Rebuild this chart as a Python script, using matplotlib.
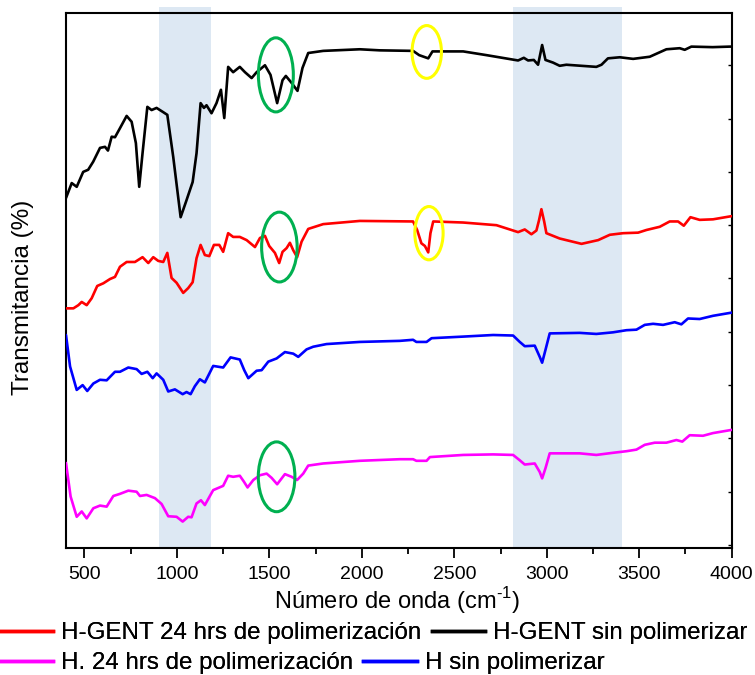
import matplotlib.pyplot as plt
from matplotlib.patches import Ellipse
from matplotlib.lines import Line2D
from matplotlib.ticker import MultipleLocator

plt.rcParams['font.family'] = ['Liberation Sans', 'DejaVu Sans']
plt.rcParams['mathtext.fontset'] = 'custom'
plt.rcParams['mathtext.rm'] = 'Liberation Sans'

# FTIR spectra (wavenumber in cm-1, transmittance offset per sample)
wn_black = [400, 431, 458, 493, 520, 547, 584, 611, 627, 647, 665, 692, 728, 755, 778,
            796, 814, 840, 863, 890, 926, 948, 980, 1020, 1049, 1085, 1106, 1128, 1146, 1160,
            1187, 1214, 1238, 1256, 1277, 1304, 1340, 1368, 1404, 1431, 1476, 1506, 1542, 1571,
            1589, 1620, 1652, 1679, 1710, 1791, 1989, 2097, 2277, 2310, 2359, 2382, 2548, 2674,
            2845, 2876, 2899, 2930, 2953, 2975, 2993, 3034, 3070, 3106, 3268, 3296, 3331, 3395,
            3467, 3557, 3647, 3719, 3746, 3782, 3897, 3989, 4000]
t_black = [65.1, 67.9, 67.2, 70.0, 70.4, 71.9, 74.5, 74.7, 74.0, 76.6, 76.5, 78.2, 80.5, 79.4, 75.4,
           67.2, 73.5, 82.2, 81.6, 82.0, 81.2, 80.7, 72.8, 61.5, 64.4, 68.1, 73.5, 82.9, 82.0, 82.5,
           81.0, 82.9, 85.4, 80.1, 89.7, 88.7, 89.7, 88.7, 87.6, 88.7, 90.0, 88.2, 82.9, 87.2,
           88.0, 86.7, 85.2, 89.5, 92.3, 92.7, 93.0, 92.8, 92.7, 91.9, 91.3, 92.6, 92.6, 91.9,
           90.9, 91.4, 90.9, 91.0, 90.1, 93.8, 91.0, 90.5, 89.9, 90.1, 89.7, 90.1, 91.3, 91.5,
           91.2, 91.6, 93.0, 93.2, 92.9, 93.5, 93.4, 93.5, 93.5]

wn_red = [400, 440, 467, 485, 512, 539, 569, 602, 638, 665, 692, 728, 773, 814, 845,
          872, 899, 926, 948, 971, 998, 1034, 1061, 1085, 1106, 1128, 1151, 1175, 1200, 1229,
          1250, 1277, 1304, 1340, 1377, 1422, 1449, 1476, 1499, 1530, 1553, 1571, 1593, 1611,
          1629, 1650, 1674, 1710, 1746, 1791, 1989, 2277, 2299, 2322, 2341, 2359, 2371, 2386,
          2548, 2728, 2845, 2881, 2917, 2944, 2958, 2971, 2986, 2998, 3070, 3188, 3278, 3341,
          3413, 3494, 3539, 3611, 3665, 3710, 3741, 3777, 3827, 3899, 4000]
t_red = [44.4, 44.4, 45.0, 45.6, 45.0, 46.3, 48.6, 49.1, 49.9, 50.3, 52.2, 53.1, 53.1, 54.0, 52.9,
         54.0, 53.3, 53.1, 54.8, 50.1, 49.2, 47.3, 48.2, 49.3, 53.8, 56.3, 54.4, 54.2, 56.3, 56.3,
         55.0, 58.5, 57.8, 57.8, 57.2, 55.9, 57.6, 58.0, 56.1, 54.8, 52.9, 55.0, 55.7, 56.7,
         55.3, 54.0, 56.9, 59.3, 59.7, 60.2, 60.8, 60.7, 59.1, 56.6, 56.1, 54.9, 58.5, 60.7,
         60.5, 60.0, 58.7, 59.2, 58.3, 59.0, 60.9, 63.0, 60.7, 58.5, 57.5, 56.5, 57.2, 58.2,
         58.5, 58.6, 59.1, 59.7, 60.7, 60.7, 59.9, 61.5, 61.0, 61.1, 61.7]

wn_blue = [400, 422, 458, 490, 515, 548, 584, 620, 665, 692, 737, 782, 809, 840, 869,
           890, 926, 953, 989, 1031, 1052, 1074, 1097, 1124, 1151, 1196, 1250, 1290, 1340, 1364,
           1386, 1431, 1458, 1494, 1539, 1584, 1629, 1656, 1701, 1737, 1809, 1989, 2205, 2277,
           2295, 2350, 2377, 2548, 2710, 2818, 2854, 2881, 2935, 2962, 2975, 2993, 3016, 3178,
           3268, 3358, 3431, 3485, 3530, 3575, 3629, 3692, 3728, 3764, 3827, 3899, 4000]
t_blue = [39.4, 33.5, 29.1, 30.0, 28.9, 30.3, 31.0, 30.9, 32.5, 32.5, 33.3, 33.0, 32.1, 32.5, 31.3,
          32.2, 31.0, 28.8, 29.2, 28.3, 28.7, 28.3, 29.8, 31.1, 30.5, 33.6, 33.3, 35.2, 34.8, 32.8,
          31.3, 32.7, 32.8, 34.4, 35.0, 36.2, 35.9, 35.3, 36.7, 37.2, 37.7, 38.1, 38.3, 38.5,
          38.1, 38.1, 38.8, 39.1, 39.4, 39.3, 38.1, 37.3, 37.4, 35.3, 34.2, 36.6, 39.7, 39.8,
          39.6, 39.9, 40.3, 40.4, 41.3, 41.5, 41.3, 41.8, 41.4, 42.5, 42.4, 43.0, 43.6]

wn_mag = [400, 425, 458, 485, 512, 548, 584, 620, 656, 692, 737, 782, 800, 836, 881,
          917, 953, 998, 1031, 1061, 1079, 1106, 1130, 1151, 1196, 1250, 1277, 1304, 1340, 1362,
          1382, 1413, 1449, 1485, 1512, 1542, 1584, 1620, 1650, 1683, 1710, 1791, 1989, 2205,
          2277, 2295, 2350, 2368, 2548, 2710, 2818, 2854, 2881, 2935, 2962, 2975, 2993, 3016,
          3178, 3268, 3358, 3431, 3485, 3530, 3584, 3647, 3701, 3733, 3773, 3845, 3899, 4000]
t_mag = [15.4, 9.1, 5.3, 6.3, 5.0, 6.9, 7.4, 7.2, 9.2, 9.6, 10.2, 10.0, 9.2, 9.4, 8.8,
         7.7, 5.4, 5.3, 4.4, 5.3, 5.2, 7.8, 8.4, 7.5, 10.3, 11.1, 13.0, 12.8, 13.0, 11.9,
         10.8, 12.2, 13.1, 13.4, 12.6, 11.4, 13.3, 12.8, 12.2, 13.4, 14.9, 15.3, 15.8, 16.1,
         16.1, 15.8, 15.8, 16.5, 16.9, 17.0, 16.9, 15.9, 15.1, 15.3, 13.7, 12.5, 14.4, 17.2,
         17.2, 16.9, 17.3, 17.6, 17.9, 18.8, 19.2, 19.2, 19.7, 19.4, 20.6, 20.5, 21.0, 21.6]

labels = ['H-GENT 24 hrs de polimerización', 'H-GENT sin polimerizar',
          'H. 24 hrs de polimerización', 'H sin polimerizar']

# highlighted regions (cm-1)
bands = [(903, 1184), (2819, 3405)]
# marked peaks: (center wn, center T, width, height)
green_marks = [(1535, 88.2, 189, 13.9), (1554, 55.9, 192, 13.1), (1539, 12.8, 198, 13.1)]
yellow_marks = [(2351, 92.5, 159, 9.9), (2363, 58.5, 153, 10.0)]

fig = plt.figure(figsize=(7.55, 6.75), dpi=100)
ax = fig.add_axes([0.0874, 0.1886, 0.8817, 0.7917])

for lo, hi in bands:
    ax.axvspan(lo, hi, ymin=0, ymax=1.012, color='#dde8f3', lw=0, clip_on=False, zorder=0)

lw = 1.9
style = dict(lw=lw, zorder=3, solid_joinstyle='round', solid_capstyle='round')
ax.plot(wn_black, t_black, color='black', **style)
ax.plot(wn_red, t_red, color='#ff0000', **style)
ax.plot(wn_blue, t_blue, color='#0000ff', **style)
ax.plot(wn_mag, t_mag, color='#ff00ff', **style)

for x, y, w, h in green_marks:
    ax.add_patch(Ellipse((x, y), w, h, fill=False, ec='#00b050', lw=2.2, zorder=4))
for x, y, w, h in yellow_marks:
    ax.add_patch(Ellipse((x, y), w, h, fill=False, ec='#ffff00', lw=2.2, zorder=4))

ax.set_xlim(400, 4000)
ax.set_ylim(-0.5, 99.75)
ax.xaxis.set_major_locator(MultipleLocator(500))
ax.xaxis.set_minor_locator(MultipleLocator(250))
ax.tick_params(axis='x', which='major', direction='out', length=7, width=1.3,
               labelsize=14, pad=6)
ax.tick_params(axis='x', which='minor', direction='out', length=4, width=1.3)
ax.yaxis.set_major_locator(MultipleLocator(10))
ax.tick_params(axis='y', which='both', left=False, right=True, labelleft=False,
               direction='in', length=3, width=1)
for sp in ax.spines.values():
    sp.set_linewidth(1.5)

fig.text(397 / 755, 1 - 609 / 675, 'Número de onda (cm$^{\\mathregular{\u2010}1}$)',
         ha='center', va='baseline', fontsize=17)
fig.text(23 / 755, 1 - 297 / 675, 'Transmitancia (%)', rotation=90,
         ha='center', va='center', fontsize=17.5)

# legend rows
row1 = [Line2D([], [], color='#ff0000', lw=2.5), Line2D([], [], color='black', lw=2.5)]
row2 = [Line2D([], [], color='#ff00ff', lw=2.5), Line2D([], [], color='#0000ff', lw=2.5)]
for handles, names, ypix in [(row1, labels[:2], 633), (row2, labels[2:], 663)]:
    leg = fig.legend(handles, names, ncol=2, loc='center left',
                     bbox_to_anchor=(0.0, 1 - ypix / 675), frameon=False,
                     fontsize=17.4, handlelength=2.2, handletextpad=0.33,
                     columnspacing=0.42, borderpad=0, borderaxespad=0)
    fig.add_artist(leg)

fig.savefig('out.png', dpi=100)
